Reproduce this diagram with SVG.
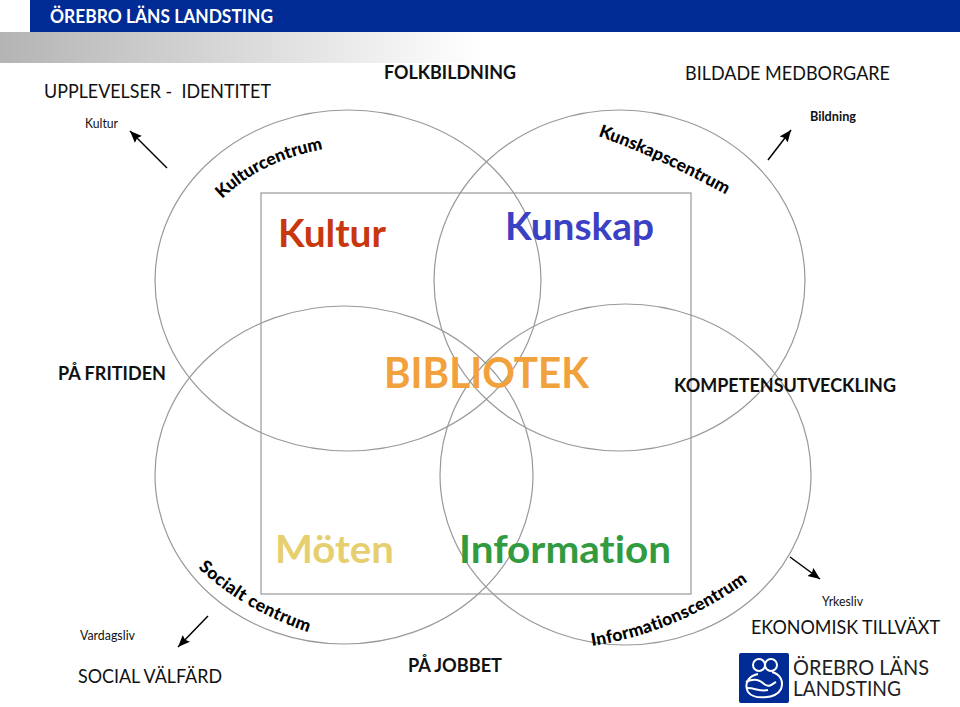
<svg xmlns="http://www.w3.org/2000/svg" width="960" height="707" viewBox="0 0 960 707">
<style>
text{font-family:Lato,"Open Sans","Liberation Sans",sans-serif;fill:#111;font-variant-ligatures:none}
.c{fill:none;stroke:#999;stroke-width:1.2}
.a{stroke:#000;stroke-width:1.5;fill:none;marker-end:url(#ah)}
.b{font-weight:700}
.cv{font-weight:900;font-size:17.5px;fill:#000}
.big{font-weight:700;font-size:38px}
.s{font-size:13px}
.m{font-size:19.5px}
</style>
<defs>
<linearGradient id="g" x1="0" x2="1" y1="0" y2="0"><stop offset="0" stop-color="#b4b4b4"/><stop offset="1" stop-color="#fff"/></linearGradient>
<marker id="ah" markerUnits="userSpaceOnUse" markerWidth="14" markerHeight="12" refX="12" refY="5" orient="auto"><path d="M0 0L12 5L0 10L2 5Z" fill="#000"/></marker>
<path id="p1" d="M222 199Q262 160 325 149"/>
<path id="p2" d="M598 136Q660 158 730 197"/>
<path id="p3" d="M198 568Q245 612 314 634"/>
<path id="p4" d="M592 646Q680 632 752 578"/>
</defs>
<g id="header">
<rect x="30" y="0" width="930" height="32" fill="#002a94"/>
<rect x="0" y="32" width="480" height="31" fill="url(#g)"/>
<text x="50" y="23" class="b" style="fill:#fff" font-size="18.5" textLength="223" lengthAdjust="spacingAndGlyphs">ÖREBRO LÄNS LANDSTING</text>
</g>
<g id="frame"><rect class="c" x="261" y="193" width="430" height="401"/></g>
<g id="circle-kultur"><ellipse class="c" cx="348" cy="280.5" rx="193" ry="170.5"/><text class="big" x="278" y="247" textLength="108" lengthAdjust="spacingAndGlyphs" style="fill:#c9370f">Kultur</text><text class="cv"><textPath href="#p1">Kulturcentrum</textPath></text></g>
<g id="circle-kunskap"><ellipse class="c" cx="619.5" cy="280.5" rx="185.5" ry="170.5"/><text class="big" x="505" y="240" textLength="149" lengthAdjust="spacingAndGlyphs" style="fill:#3a41c4">Kunskap</text><text class="cv"><textPath href="#p2">Kunskapscentrum</textPath></text></g>
<g id="circle-moten"><ellipse class="c" cx="344" cy="475" rx="189" ry="169"/><text class="big" x="275" y="563" textLength="119" lengthAdjust="spacingAndGlyphs" style="fill:#e6cf6e">Möten</text><text class="cv" letter-spacing="0.45"><textPath href="#p3">Socialt centrum</textPath></text></g>
<g id="circle-information"><ellipse class="c" cx="625.5" cy="474.5" rx="185.5" ry="170.5"/><text class="big" x="459" y="563" textLength="212" lengthAdjust="spacingAndGlyphs" style="fill:#329b3f">Information</text><text class="cv" letter-spacing="0.25"><textPath href="#p4">Informationscentrum</textPath></text></g>
<g id="center"><text x="384" y="388" font-size="42" textLength="205" lengthAdjust="spacingAndGlyphs" class="b" style="fill:#f2a23c">BIBLIOTEK</text></g>
<g id="connectors">
<path class="a" d="M167 168L130 131"/>
<path class="a" d="M768 160L791 130"/>
<path class="a" d="M208 616L178 647"/>
<path class="a" d="M790 557L820 579"/>
</g>
<g id="labels">
<text class="m" x="44" y="98" textLength="227" lengthAdjust="spacingAndGlyphs" xml:space="preserve">UPPLEVELSER -  IDENTITET</text>
<text class="s" x="85" y="128" textLength="33" lengthAdjust="spacingAndGlyphs">Kultur</text>
<text class="b m" x="384" y="79" textLength="132" lengthAdjust="spacingAndGlyphs">FOLKBILDNING</text>
<text class="m" x="685" y="80" textLength="205" lengthAdjust="spacingAndGlyphs">BILDADE MEDBORGARE</text>
<text class="s b" x="810" y="121" textLength="46" lengthAdjust="spacingAndGlyphs">Bildning</text>
<text class="b m" x="58" y="380" textLength="108" lengthAdjust="spacingAndGlyphs">PÅ FRITIDEN</text>
<text class="b m" x="674" y="392" textLength="222" lengthAdjust="spacingAndGlyphs">KOMPETENSUTVECKLING</text>
<text class="s" x="80" y="640" textLength="55" lengthAdjust="spacingAndGlyphs">Vardagsliv</text>
<text class="m" x="78" y="683" textLength="144" lengthAdjust="spacingAndGlyphs">SOCIAL VÄLFÄRD</text>
<text class="b m" x="408" y="672" textLength="94" lengthAdjust="spacingAndGlyphs">PÅ JOBBET</text>
<text class="s" x="822" y="606" textLength="41" lengthAdjust="spacingAndGlyphs">Yrkesliv</text>
<text class="m" x="751" y="634" textLength="189" lengthAdjust="spacingAndGlyphs">EKONOMISK TILLVÄXT</text>
</g>
<g id="logo">
<rect x="739" y="653" width="50" height="50" rx="2" fill="#002a94"/>
<g fill="none" stroke="#fff" stroke-width="2">
<circle cx="759" cy="665" r="6"/><circle cx="771" cy="665" r="6"/>
<path d="M758 674C748 676 744 684 748 692C754 700 776 699 781 689C784 681 780 674 772 672"/>
<path d="M746 682C754 678 760 680 764 684C770 688 772 684 776 682M747 688C756 688 760 692 768 690"/>
</g>
<text x="793" y="675" font-size="21" textLength="136" lengthAdjust="spacingAndGlyphs" style="fill:#222">ÖREBRO LÄNS</text>
<text x="793" y="696" font-size="21" textLength="108" lengthAdjust="spacingAndGlyphs" style="fill:#222">LANDSTING</text>
</g>
</svg>
